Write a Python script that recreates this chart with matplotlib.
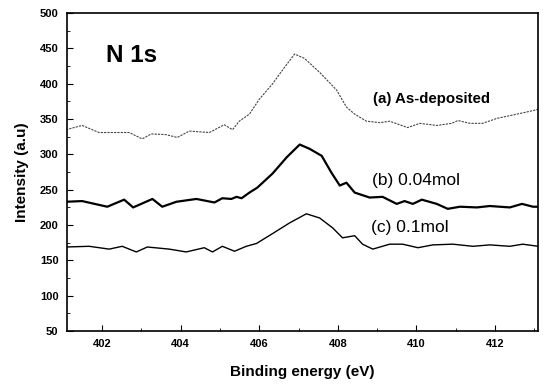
import numpy as np
import matplotlib
matplotlib.use('Agg')
import matplotlib.pyplot as plt
from matplotlib.ticker import MultipleLocator

plt.rcParams['font.family'] = ['Liberation Sans', 'DejaVu Sans']

# binding energy (eV) and intensity
energy_a = [401.08, 401.49, 401.92, 402.36, 402.69, 403.02, 403.25, 403.63, 403.91, 404.22,
            404.73, 405.11, 405.32, 405.49, 405.75, 406.0, 406.34, 406.6, 406.9, 407.15,
            407.54, 407.97, 408.22, 408.43, 408.73, 409.07, 409.32, 409.78, 410.09, 410.52,
            410.9, 411.06, 411.36, 411.69, 412.05, 412.56, 412.97, 413.1]
intensity_a = [335, 341, 331, 331, 331, 322, 329, 328, 324, 333,
               331, 342, 335, 347, 357, 378, 400, 420, 442, 436,
               416, 391, 367, 357, 347, 345, 347, 338, 344, 341,
               344, 348, 344, 344, 351, 357, 362, 364]

energy_b = [401.08, 401.49, 402.13, 402.56, 402.79, 403.28, 403.53, 403.89, 404.4, 404.86,
            405.06, 405.29, 405.42, 405.55, 405.75, 405.95, 406.34, 406.7, 407.03, 407.28,
            407.59, 407.84, 408.05, 408.22, 408.43, 408.81, 409.14, 409.5, 409.7, 409.91,
            410.14, 410.52, 410.8, 411.11, 411.54, 411.87, 412.38, 412.69, 412.97, 413.1]
intensity_b = [233, 234, 226, 236, 225, 237, 226, 233, 237, 232,
               238, 237, 240, 238, 246, 253, 273, 296, 314, 308,
               298, 274, 256, 260, 246, 239, 240, 230, 234, 230,
               236, 230, 223, 226, 225, 227, 225, 230, 226, 226]

energy_c = [401.08, 401.67, 402.18, 402.51, 402.87, 403.15, 403.71, 404.14, 404.6, 404.81,
            405.06, 405.37, 405.67, 405.93, 406.34, 406.77, 407.2, 407.54, 407.87, 408.12,
            408.43, 408.63, 408.89, 409.32, 409.65, 410.04, 410.42, 410.93, 411.44, 411.87,
            412.38, 412.71, 413.1]
intensity_c = [169, 170, 166, 170, 162, 169, 166, 162, 168, 162,
               170, 163, 170, 174, 188, 203, 216, 210, 196, 182,
               185, 173, 166, 173, 173, 168, 172, 173, 170, 172,
               170, 173, 170]

labels = ['(a) As-deposited', '(b) 0.04mol', '(c) 0.1mol']

fig = plt.figure(figsize=(5.43, 3.85), dpi=100)
ax = fig.add_axes([0.123, 0.140, 0.868, 0.826])

ax.plot(energy_a, intensity_a, color='#444444', lw=0.8, ls=(0, (2, 1)))
ax.plot(energy_b, intensity_b, color='black', lw=1.6)
ax.plot(energy_c, intensity_c, color='black', lw=1.0)

ax.text(408.9, 378, labels[0], fontsize=10.8, fontweight='bold', va='center')
ax.text(408.88, 263, labels[1], fontsize=12.5, va='center')
ax.text(408.85, 196, labels[2], fontsize=12.5, va='center')
ax.text(402.1, 440, 'N 1s', fontsize=17.5, fontweight='bold', va='center')

ax.set_xlim(401.1, 413.1)
ax.set_ylim(50, 500)
ax.xaxis.set_major_locator(MultipleLocator(2))
ax.xaxis.set_minor_locator(MultipleLocator(1))
ax.yaxis.set_major_locator(MultipleLocator(50))
ax.yaxis.set_minor_locator(MultipleLocator(25))
ax.tick_params(which='both', direction='in', labelsize=8)
ax.tick_params(which='major', length=4, pad=6)
ax.tick_params(which='minor', length=2)
for lab in ax.get_xticklabels() + ax.get_yticklabels():
    lab.set_fontweight('bold')
for s in ax.spines.values():
    s.set_linewidth(1.2)

ax.set_xlabel('Binding energy (eV)', fontsize=11, fontweight='bold', labelpad=11)
ax.set_ylabel('Intensity (a.u)', fontsize=11, fontweight='bold', labelpad=8)

fig.savefig('out.png', dpi=100)
